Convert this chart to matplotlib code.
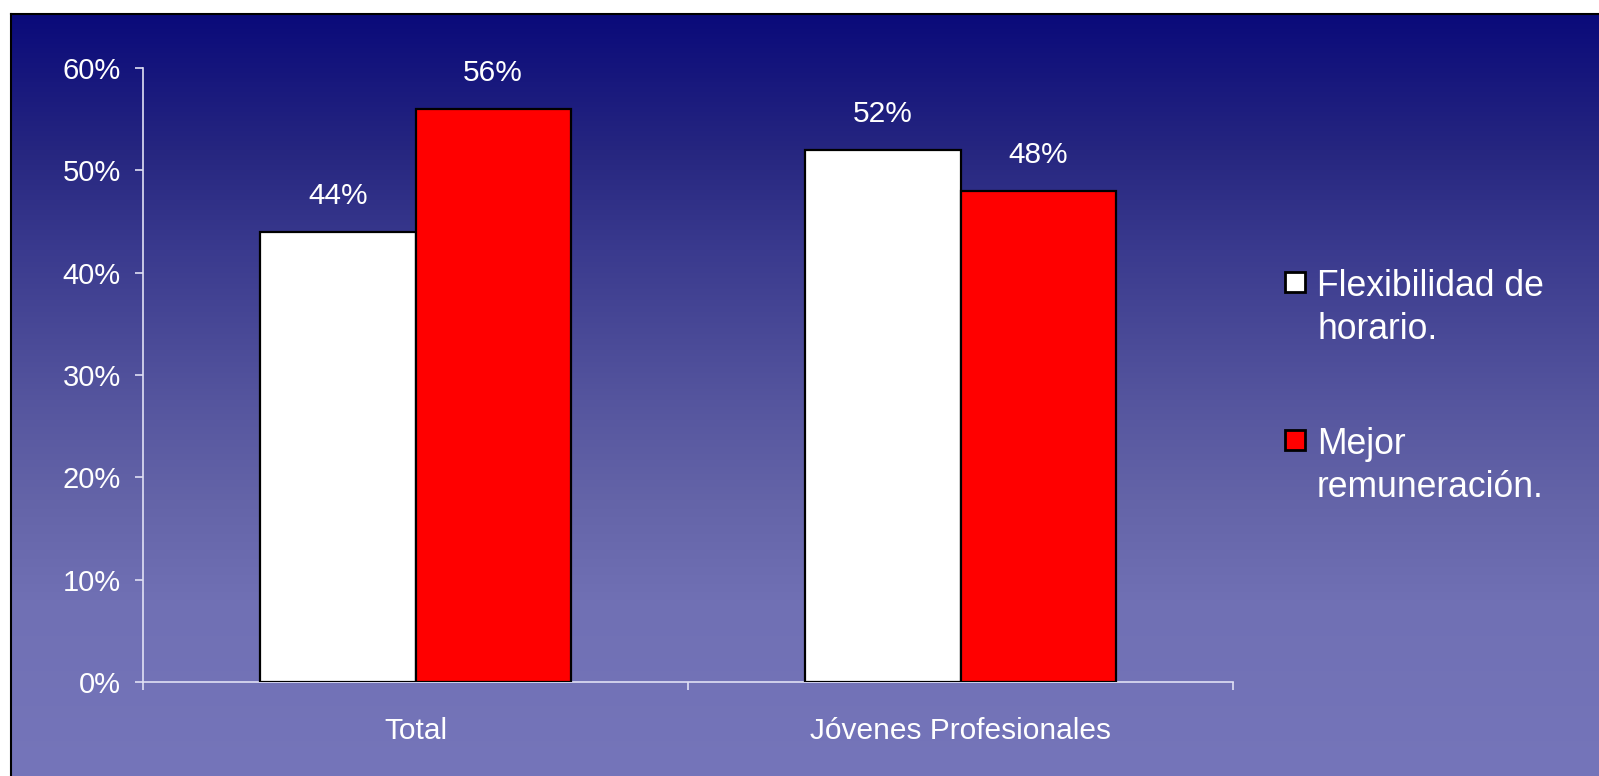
import numpy as np
import matplotlib
matplotlib.use("Agg")
import matplotlib.pyplot as plt
from matplotlib.patches import Rectangle

plt.rcParams['font.family'] = ['Liberation Sans', 'DejaVu Sans']

categories = ['Total', 'Jóvenes Profesionales']
series_names = ['Flexibilidad de\nhorario.', 'Mejor\nremuneración.']
flexibilidad = [44, 52]
remuneracion = [56, 48]
bar_colors = ['#ffffff', '#ff0000']
y_ticks = [0, 10, 20, 30, 40, 50, 60]

W, H = 1599, 776
fig = plt.figure(figsize=(W / 100, H / 100), dpi=100, facecolor='white')

# fondo con degradado azul
bg = fig.add_axes([11 / W, 0, (W - 11) / W, (H - 14) / H], zorder=-1)
ys = np.array([0, 136, 236, 386, 486, 586, 762])
r = np.array([10, 38, 58, 85, 100, 112, 117])
b = np.array([122, 128, 142, 158, 168, 180, 186])
yy = np.arange(762)
rr = np.interp(yy, ys, r)
bb = np.interp(yy, ys, b)
grad = np.stack([rr, rr, bb], axis=-1)[:, None, :] / 255.0
bg.imshow(grad, aspect='auto', extent=[0, 1, 0, 1], origin='upper')
bg.set_xticks([])
bg.set_yticks([])
for side, s in bg.spines.items():
    s.set_color('black')
    s.set_linewidth(1.5)
    if side in ('right', 'bottom'):
        s.set_visible(False)

ax = fig.add_axes([143 / W, 94 / H, (1233 - 143) / W, (682 - 68) / H])
ax.set_facecolor('none')

x = np.arange(len(categories))
width = 0.285
b1 = ax.bar(x - width / 2, flexibilidad, width, color=bar_colors[0],
            edgecolor='black', linewidth=1.6, zorder=3)
b2 = ax.bar(x + width / 2, remuneracion, width, color=bar_colors[1],
            edgecolor='black', linewidth=1.6, zorder=3)

for bars, vals in [(b1, flexibilidad), (b2, remuneracion)]:
    for rect, v in zip(bars, vals):
        ax.text(rect.get_x() + rect.get_width() / 2, v + 3.5, f'{v}%',
                ha='center', va='center', color='white', fontsize=21.5)

ax.set_xlim(-0.5, 1.5)
ax.set_ylim(0, 60)
ax.set_yticks(y_ticks)
ax.set_yticklabels([f'{t}%' for t in y_ticks])
ax.set_xticks(x)
ax.set_xticklabels(categories)
ax.set_xticks([-0.5, 0.5, 1.5], minor=True)

axis_color = '#e0e0f4'
for side in ['top', 'right']:
    ax.spines[side].set_visible(False)
for side in ['left', 'bottom']:
    ax.spines[side].set_color(axis_color)
    ax.spines[side].set_linewidth(1.2)

ax.tick_params(axis='y', colors=axis_color, labelcolor='white', labelsize=21,
               length=6, width=1.2, pad=10)
ax.tick_params(axis='x', which='major', length=0, labelcolor='white',
               labelsize=21.5, pad=25)
ax.tick_params(axis='x', which='minor', length=6, width=1.2, colors=axis_color)

# leyenda
leg_y = [285, 443]
for name, col, yc in zip(series_names, bar_colors, leg_y):
    sq = 20
    fig.patches.append(Rectangle((1285 / W, (H - yc - sq / 2 + 3) / H), sq / W, sq / H,
                                 transform=fig.transFigure, facecolor=col,
                                 edgecolor='black', linewidth=2))
    fig.text(1317 / W, (H - yc + 3 + 13) / H, name, color='white', fontsize=25.6,
             ha='left', va='top', linespacing=1.3)

fig.savefig('out.png', dpi=100, facecolor='white')
